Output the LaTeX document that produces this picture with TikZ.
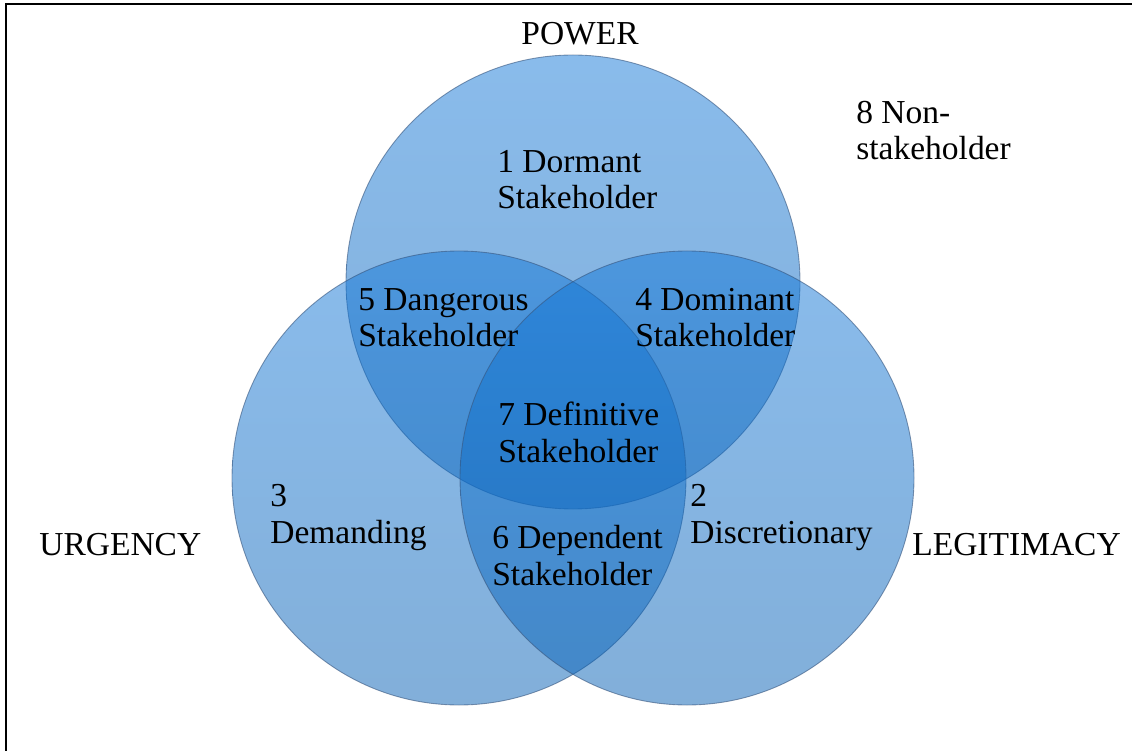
\documentclass[tikz,border=0pt]{standalone}
\usepackage{fontspec}
\setmainfont{Liberation Serif}
\definecolor{venntop}{RGB}{20,120,216}
\definecolor{vennbot}{RGB}{5,95,180}
\definecolor{vennline}{RGB}{55,85,125}
\begin{document}
\begin{tikzpicture}[>=latex,
  venn/.style={top color=venntop,bottom color=vennbot,fill opacity=0.5,
    draw=vennline,draw opacity=0.6,line width=0.5pt},
  lbl/.style={anchor=base west,inner sep=0pt,align=left,
    font=\fontsize{19.06pt}{21.05pt}\selectfont}]
\useasboundingbox (0,0) rectangle (22.64,-15.02);
\draw[line width=1.14pt] (0.12,-15.02) -- (0.12,-0.08) -- (22.64,-0.08);

\coordinate (power) at (11.46,-5.64);
\coordinate (urgency) at (9.18,-9.56);
\coordinate (legit) at (13.74,-9.56);
\draw[venn] (power) circle (4.54);
\draw[venn] (urgency) circle (4.54);
\draw[venn] (legit) circle (4.54);

\node[lbl,anchor=base] (powerlbl) at (11.60,-0.90) {POWER};
\node[lbl] (urglbl) at (0.78,-11.10) {URGENCY};
\node[lbl] (leglbl) at (18.24,-11.10) {LEGITIMACY};

% two-line labels: placed at the baseline of their last line
\node[lbl] (dormant) at (9.94,-4.18) {1 Dormant\\Stakeholder};
\node[lbl] (discr) at (13.80,-10.86) {2\\Discretionary};
\node[lbl] (demand) at (5.40,-10.86) {3\\Demanding};
\node[lbl] (dominant) at (12.70,-6.94) {4 Dominant\\Stakeholder};
\node[lbl] (danger) at (7.16,-6.94) {5 Dangerous\\Stakeholder};
\node[lbl] (depend) at (9.84,-11.70) {6 Dependent\\Stakeholder};
\node[lbl] (definit) at (9.96,-9.24) {7 Definitive\\Stakeholder};
\node[lbl] (nonstake) at (17.12,-3.20) {8 Non-\\stakeholder};
\end{tikzpicture}
\end{document}
